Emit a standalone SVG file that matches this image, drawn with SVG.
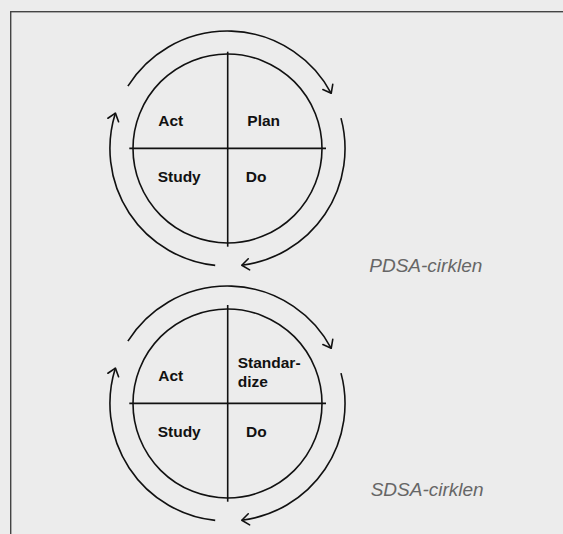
<svg xmlns="http://www.w3.org/2000/svg" width="563" height="534" viewBox="0 0 563 534">
  <defs>
    <style>
      .ring { fill: none; stroke: #111; stroke-width: 1.6; }
      .axis { stroke: #111; stroke-width: 1.6; }
      .arc { fill: none; stroke: #111; stroke-width: 1.6; marker-end: url(#open); }
      .lbl { font-family: "Liberation Sans", Arial, sans-serif; font-weight: bold; font-size: 15.5px; fill: #111; }
      .cap { font-family: "Liberation Sans", Arial, sans-serif; font-style: italic; font-size: 19px; fill: #666; }
    </style>
    <marker id="open" markerUnits="userSpaceOnUse" viewBox="-10 -10 20 20" markerWidth="20" markerHeight="20" refX="0" refY="0" orient="auto" overflow="visible">
      <path d="M -7.2 -5.6 L 0 0 L -7.2 5.6" fill="none" stroke="#111" stroke-width="1.6" stroke-linecap="round" stroke-linejoin="round"/>
    </marker>
  </defs>
  <rect x="0" y="0" width="563" height="534" fill="#ececec"/>
  <rect x="10.7" y="11.7" width="600" height="600" fill="none" stroke="#444" stroke-width="1.4"/>

  <g id="connectors">
    <g id="pdsa-arcs">
      <path class="arc" d="M 127.9 86.2 A 117.5 117.5 0 0 1 331.2 93.3"/>
      <path class="arc" d="M 341.0 118.1 A 117.5 117.5 0 0 1 241.8 265.2"/>
      <path class="arc" d="M 215.2 265.4 A 117.5 117.5 0 0 1 115.4 113.1"/>
    </g>
    <g id="sdsa-arcs" transform="translate(0,255)">
      <path class="arc" d="M 127.9 86.2 A 117.5 117.5 0 0 1 331.2 93.3"/>
      <path class="arc" d="M 341.0 118.1 A 117.5 117.5 0 0 1 241.8 265.2"/>
      <path class="arc" d="M 215.2 265.4 A 117.5 117.5 0 0 1 115.4 113.1"/>
    </g>
  </g>

  <g id="pdsa">
    <circle class="ring" cx="227.5" cy="148.5" r="94.5"/>
    <line class="axis" x1="227.7" y1="51.7" x2="227.7" y2="246.7"/>
    <line class="axis" x1="129.3" y1="148.4" x2="326" y2="148.4"/>
    <g id="pdsa-act"><text class="lbl" x="158.3" y="126">Act</text></g>
    <g id="pdsa-plan"><text class="lbl" x="247.3" y="126">Plan</text></g>
    <g id="pdsa-study"><text class="lbl" x="157.7" y="182.3">Study</text></g>
    <g id="pdsa-do"><text class="lbl" x="245.7" y="182.3">Do</text></g>
  </g>
  <g id="pdsa-caption"><text class="cap" x="369.3" y="272">PDSA-cirklen</text></g>

  <g id="sdsa">
    <circle class="ring" cx="227.5" cy="403.5" r="94.5"/>
    <line class="axis" x1="227.7" y1="305" x2="227.7" y2="501.7"/>
    <line class="axis" x1="129.3" y1="403.4" x2="326" y2="403.4"/>
    <g id="sdsa-act"><text class="lbl" x="158.3" y="381">Act</text></g>
    <g id="sdsa-standardize"><text class="lbl" x="237.7" y="367.7">Standar-</text><text class="lbl" x="237.7" y="386.7">dize</text></g>
    <g id="sdsa-study"><text class="lbl" x="157.7" y="437">Study</text></g>
    <g id="sdsa-do"><text class="lbl" x="246" y="437">Do</text></g>
  </g>
  <g id="sdsa-caption"><text class="cap" x="370.7" y="496">SDSA-cirklen</text></g>
</svg>
